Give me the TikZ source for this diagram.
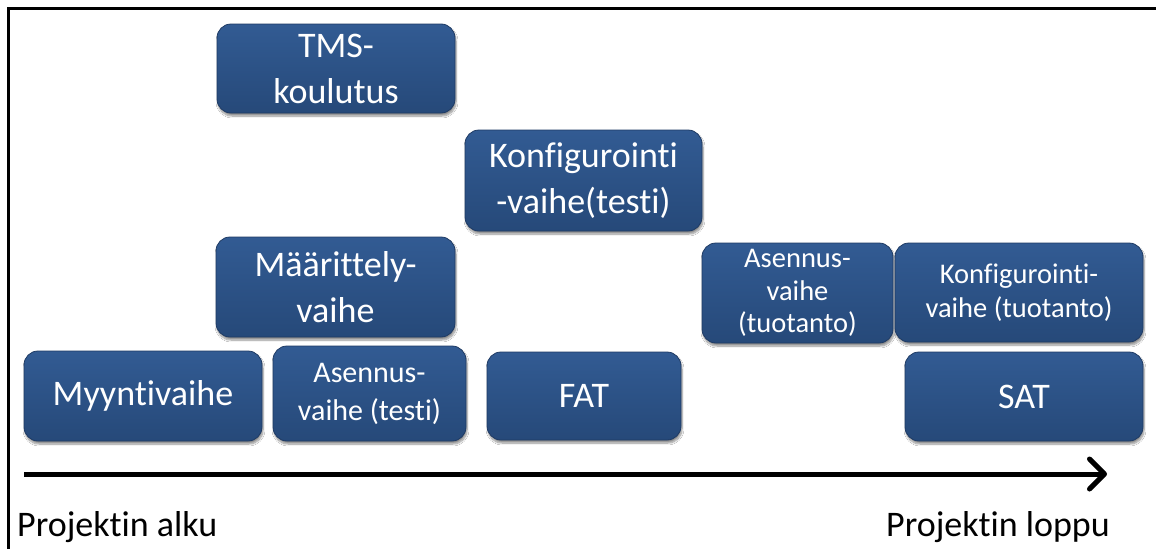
\documentclass[tikz,border=0pt]{standalone}
\usepackage{fontspec}
\setmainfont{Carlito}[RawFeature={-liga;-clig;-calt;-dlig}]
\usetikzlibrary{arrows.meta,shadows.blur}

\definecolor{phasetop}{HTML}{325B93}
\definecolor{phasebot}{HTML}{264979}
\definecolor{phaseedge}{HTML}{1F3B64}

\tikzset{
  phase/.style={draw=phaseedge, line width=0.8pt, rounded corners=14pt,
    top color=phasetop, bottom color=phasebot,
    text=white, align=center, inner sep=0pt, outer sep=0pt,
    blur shadow={shadow xshift=1pt, shadow yshift=-3pt, shadow blur steps=8, shadow opacity=45}},
  bigtext/.style={font=\fontsize{36}{46}\selectfont},
  smalltext/.style={font=\fontsize{28.5}{34.5}\selectfont},
  frameline/.style={line width=3pt, black},
  timeline/.style={line width=5pt, black,
    -{Straight Barb[length=15pt, width=30pt, line width=5pt, round]}},
  endlabel/.style={font=\fontsize{36}{42}\selectfont, inner sep=0pt, text=black}
}

\begin{document}
\begin{tikzpicture}[x=1pt, y=-1pt]
  \useasboundingbox (0,0) rectangle (1156,549);
  \fill[white] (0,0) rectangle (1156,549);

  % frame edges (top and left)
  \coordinate (ftl) at (8.5,8.5);
  \coordinate (ftr) at (1156,8.5);
  \coordinate (fbl) at (8.5,549);
  \draw[frameline] (ftr) -- (ftl) -- (fbl);

  % project phases
  \node[phase, bigtext, minimum width=238pt, minimum height=89pt] (tms) at (336,68.5)
    {TMS-\\koulutus};
  \node[phase, bigtext, minimum width=237pt, minimum height=101pt] (konft) at (583.5,180.5)
    {Konfigurointi\\-vaihe(testi)};
  \node[phase, bigtext, minimum width=239pt, minimum height=100pt] (maar) at (335.5,287)
    {Määrittely-\\vaihe};
  \node[phase, bigtext, minimum width=238pt, minimum height=90pt] (myy) at (143,396)
    {Myyntivaihe};
  \node[phase, font=\fontsize{30}{38}\selectfont, minimum width=193pt, minimum height=95pt] (asent) at (369.5,393.5)
    {Asennus-\\vaihe (testi)};
  \node[phase, bigtext, minimum width=194pt, minimum height=88pt] (fat) at (584,396)
    {FAT};
  \node[phase, font=\fontsize{28.5}{32.5}\selectfont, minimum width=191pt, minimum height=100pt] (asenp) at (797.5,293)
    {Asennus-\\vaihe\\(tuotanto)};
  \node[phase, smalltext, minimum width=248pt, minimum height=99pt] (konfp) at (1019,292.5)
    {Konfigurointi-\\vaihe (tuotanto)};
  \node[phase, bigtext, minimum width=238pt, minimum height=89pt] (sat) at (1024,396.5)
    {SAT};

  % time axis
  \coordinate (tstart) at (24,474);
  \coordinate (tend) at (1107,474);
  \draw[timeline] (tstart) -- (tend);

  \node[endlabel, anchor=base west] (alku) at (17,536) {Projektin alku};
  \node[endlabel, anchor=base east] (loppu) at (1110,536) {Projektin loppu};
\end{tikzpicture}
\end{document}
